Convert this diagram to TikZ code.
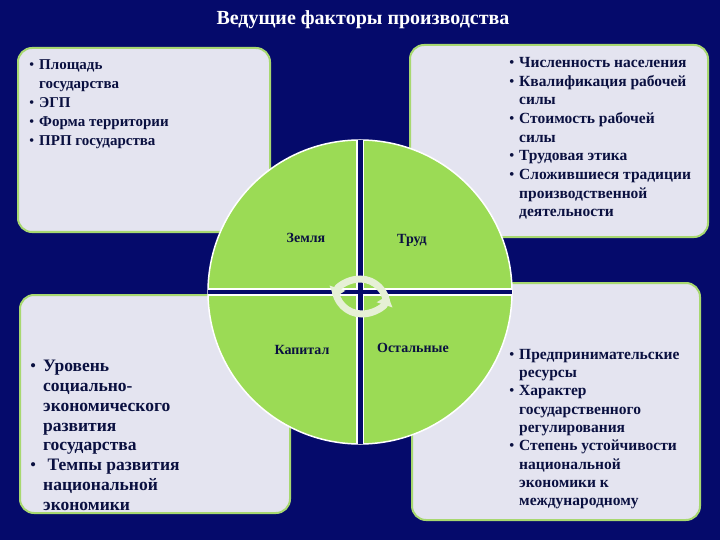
\documentclass[tikz,border=0pt]{standalone}
\usepackage{fontspec}
\usetikzlibrary{arrows.meta}
\setmainfont{Liberation Serif}
\definecolor{navy}{HTML}{050A6B}
\definecolor{boxfill}{HTML}{E4E4F0}
\definecolor{boxline}{HTML}{A8D870}
\definecolor{circ}{HTML}{9BDB55}
\definecolor{txt}{HTML}{0A1040}
\definecolor{arr}{HTML}{E6F0D6}
\newcommand{\bu}{\makebox[10pt][l]{\normalfont\textbullet}}
\newcommand{\ind}{\hspace*{10pt}}
\newcommand{\bbu}{\makebox[13pt][l]{\normalfont\textbullet}}
\newcommand{\bind}{\hspace*{13pt}}
\tikzset{
  panel/.style={fill=boxfill,draw=boxline,line width=2pt,rounded corners=14pt},
  ptext/.style={anchor=north west,align=left,text=txt,inner sep=0pt},
  qlabel/.style={text=txt,font=\bfseries\fontsize{14}{16}\selectfont}
}
\begin{document}
\begin{tikzpicture}[x=1pt,y=-1pt]
\useasboundingbox (0,0) rectangle (720,540);
\fill[navy] (0,0) rectangle (720,540);
\node[text=white,font=\bfseries\fontsize{20}{24}\selectfont] (title) at (363,20) {Ведущие факторы производства};
\draw[panel] (18,48) rectangle (270,232);
\draw[panel] (410,45) rectangle (708,237);
\draw[panel] (20,295) rectangle (290,513);
\draw[panel] (412,283) rectangle (700,520);
% texts
\node[ptext,font=\bfseries\fontsize{15}{19.2}\selectfont] (tl) at (29,59) {\bu Площадь\\\ind государства\\\bu ЭГП\\\bu Форма территории\\\bu ПРП государства};
\node[ptext,font=\bfseries\fontsize{15.5}{18.7}\selectfont] (tr) at (509,57) {\bu Численность населения\\\bu Квалификация рабочей\\\ind силы\\\bu Стоимость рабочей\\\ind силы\\\bu Трудовая этика\\\bu Сложившиеся традиции\\\ind производственной\\\ind деятельности};
\begin{scope}
\clip (0,0) rectangle (720,518);
\node[ptext,font=\bfseries\fontsize{17.5}{19.8}\selectfont] (bl) at (30,360) {\bbu Уровень\\\bind социально-\\\bind экономического\\\bind развития\\\bind государства\\\bbu\ Темпы развития\\\bind национальной\\\bind экономики};
\end{scope}
\node[ptext,font=\bfseries\fontsize{15.5}{18.3}\selectfont] (br) at (509,349) {\bu Предпринимательские\\\ind ресурсы\\\bu Характер\\\ind государственного\\\ind регулирования\\\bu Степень устойчивости\\\ind национальной\\\ind экономики к\\\ind международному};
% circle
\fill[circ] (360,292) circle (152);
\draw[white,line width=1.5pt] (360,292) circle (152);
\fill[white] (356,140) rectangle (364,444);
\fill[white] (208,288) rectangle (512,296);
\fill[navy] (357.5,140) rectangle (362.5,444);
\fill[navy] (208,290) rectangle (512,294);
\node[qlabel] (q1) at (306,238) {Земля};
\node[qlabel] (q2) at (412,240) {Труд};
\node[qlabel] (q3) at (302,350) {Капитал};
\node[qlabel] (q4) at (413,348) {Остальные};
% cycle arrows
\draw[arr,line width=7pt,-{Triangle[length=10pt,width=16pt]}] (335,287) arc[start angle=180,end angle=18,radius=27];
\draw[arr,line width=7pt,-{Triangle[length=10pt,width=16pt]}] (387,306) arc[start angle=0,end angle=-162,radius=27];
\end{tikzpicture}
\end{document}
